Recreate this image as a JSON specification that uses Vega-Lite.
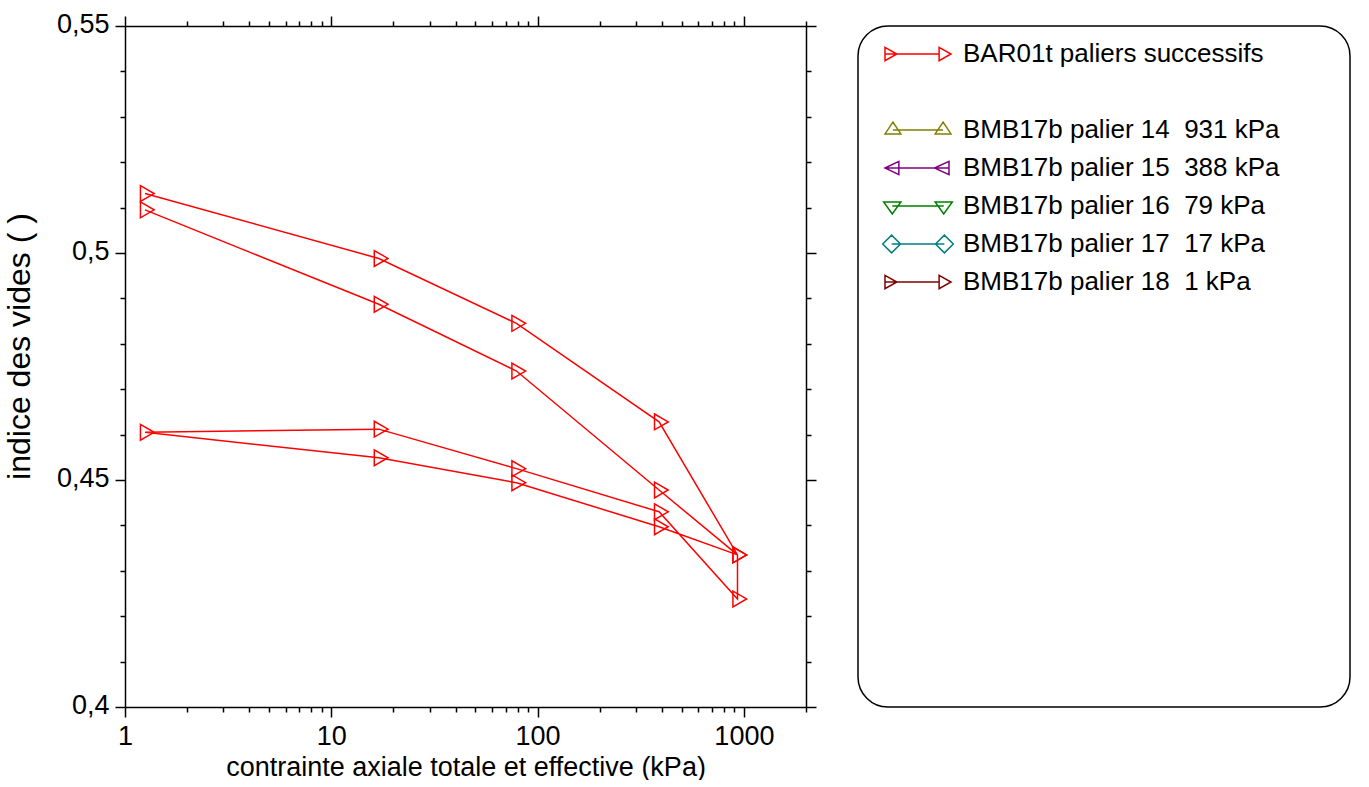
{
  "$schema": "https://vega.github.io/schema/vega-lite/v6.json",
  "background": "white",
  "autosize": {"type": "pad"},
  "padding": {"left": 3, "top": 10, "right": 20, "bottom": 0},
  "spacing": 52,
  "bounds": "flush",
  "config": {
    "font": "Liberation Sans",
    "axis": {
      "domainColor": "black", "domainWidth": 1.5,
      "tickColor": "black", "tickWidth": 1.5,
      "labelColor": "black", "labelFont": "Liberation Sans", "labelFontSize": 27,
      "titleFont": "Liberation Sans", "titleFontSize": 27, "titleFontWeight": "normal", "titleColor": "black",
      "grid": false, "labelOverlap": false, "labelFlush": false
    }
  },
  "datasets": {
    "bar01t": [
      {"k": 1, "p": 1.25, "e": 0.5131},
      {"k": 2, "p": 17, "e": 0.4988},
      {"k": 3, "p": 79, "e": 0.4845},
      {"k": 4, "p": 388, "e": 0.4628},
      {"k": 5, "p": 931, "e": 0.4335},
      {"k": 6, "p": 931, "e": 0.4238},
      {"k": 7, "p": 388, "e": 0.4430},
      {"k": 8, "p": 79, "e": 0.4525},
      {"k": 9, "p": 17, "e": 0.4612},
      {"k": 10, "p": 1.25, "e": 0.4605},
      {"k": 11, "p": 17, "e": 0.4549},
      {"k": 12, "p": 79, "e": 0.4494},
      {"k": 13, "p": 388, "e": 0.4397},
      {"k": 14, "p": 931, "e": 0.4335},
      {"k": 15, "p": 388, "e": 0.4478},
      {"k": 16, "p": 79, "e": 0.4740},
      {"k": 17, "p": 17, "e": 0.4887},
      {"k": 18, "p": 1.25, "e": 0.5095}
    ]
  },
  "hconcat": [
    {
      "width": 681,
      "height": 681,
      "view": {"stroke": null},
      "data": {"name": "bar01t"},
      "layer": [
        {
          "mark": {"type": "line", "color": "#ff0000", "strokeWidth": 1.5},
          "encoding": {
            "x": {
              "field": "p", "type": "quantitative",
              "scale": {"type": "log", "domain": [1, 2000], "nice": false},
              "axis": {
                "orient": "bottom",
                "values": [1,2,3,4,5,6,7,8,9,10,20,30,40,50,60,70,80,90,100,200,300,400,500,600,700,800,900,1000,2000],
                "labelExpr": "(datum.value==1||datum.value==10||datum.value==100||datum.value==1000) ? ''+datum.value : ''",
                "tickSize": {"condition": {"test": "datum.value==1||datum.value==10||datum.value==100||datum.value==1000", "value": 10}, "value": 5},
                "labelPadding": 6,
                "title": "contrainte axiale totale et effective (kPa)",
                "titlePadding": 5
              }
            },
            "y": {
              "field": "e", "type": "quantitative",
              "scale": {"domain": [0.4, 0.55], "nice": false, "zero": false},
              "axis": {
                "orient": "left",
                "values": [0.4,0.41,0.42,0.43,0.44,0.45,0.46,0.47,0.48,0.49,0.5,0.51,0.52,0.53,0.54,0.55],
                "labelExpr": "round(datum.value*100)%5==0 ? replace(format(datum.value,'~g'),'.',',') : ''",
                "tickSize": {"condition": {"test": "round(datum.value*100)%5==0", "value": 10}, "value": 5},
                "labelPadding": 6,
                "labelOffset": -2,
                "title": "indice des vides ( )",
                "titleFontSize": 32,
                "titleY": 320,
                "titlePadding": 20
              }
            },
            "order": {"field": "k", "type": "quantitative"}
          }
        },
        {
          "mark": {"type": "point", "shape": "M-0.577,-1L1.155,0L-0.577,1Z", "filled": false, "color": "#ff0000", "strokeWidth": 1.5, "size": 250, "opacity": 1},
          "encoding": {
            "x": {
              "field": "p", "type": "quantitative",
              "scale": {"type": "log", "domain": [1, 2000], "nice": false},
              "axis": {
                "orient": "top",
                "values": [1,2,3,4,5,6,7,8,9,10,20,30,40,50,60,70,80,90,100,200,300,400,500,600,700,800,900,1000,2000],
                "labels": false,
                "tickSize": {"condition": {"test": "datum.value==1||datum.value==10||datum.value==100||datum.value==1000", "value": 10}, "value": 5},
                "title": null
              }
            },
            "y": {
              "field": "e", "type": "quantitative",
              "scale": {"domain": [0.4, 0.55], "nice": false, "zero": false},
              "axis": {
                "orient": "right",
                "values": [0.4,0.41,0.42,0.43,0.44,0.45,0.46,0.47,0.48,0.49,0.5,0.51,0.52,0.53,0.54,0.55],
                "labels": false,
                "tickSize": {"condition": {"test": "round(datum.value*100)%5==0", "value": 10}, "value": 5},
                "title": null
              }
            }
          }
        }
      ],
      "resolve": {"axis": {"x": "independent", "y": "independent"}}
    },
    {
      "name": "leg",
      "width": 492,
      "height": 681,
      "view": {"stroke": "black", "strokeWidth": 1.5, "cornerRadius": 30},
      "data": {"values": []},
      "mark": {"type": "point", "filled": false, "strokeWidth": 1.5, "size": 600, "opacity": 1},
      "encoding": {
        "color": {
          "field": "serie", "type": "nominal",
          "scale": {
            "domain": ["BAR01t paliers successifs", " ", "BMB17b palier 14\u00a0 931 kPa", "BMB17b palier 15\u00a0 388 kPa", "BMB17b palier 16\u00a0 79 kPa", "BMB17b palier 17\u00a0 17 kPa", "BMB17b palier 18\u00a0 1 kPa"],
            "range": ["#ff0000", "#ffffff", "#808000", "#800080", "#008000", "#008080", "#800000"]
          },
          "legend": {
            "orient": "none", "legendX": 780, "legendY": 15,
            "title": null, "padding": 0,
            "symbolSize": 600, "symbolStrokeWidth": 1.5,
            "labelFont": "Liberation Sans", "labelFontSize": 26, "labelOffset": 32, "labelLimit": 600,
            "rowPadding": 12,
            "encode": {"labels": {"update": {"fill": {"scale": "leg_color", "field": "value"}}}}
          }
        },
        "shape": {
          "field": "serie", "type": "nominal",
          "scale": {
            "domain": ["BAR01t paliers successifs", " ", "BMB17b palier 14\u00a0 931 kPa", "BMB17b palier 15\u00a0 388 kPa", "BMB17b palier 16\u00a0 79 kPa", "BMB17b palier 17\u00a0 17 kPa", "BMB17b palier 18\u00a0 1 kPa"],
            "range": [
              "M-2.694,0H1.724M-2.694,-0.539L-1.724,0L-2.694,0.539ZM1.724,-0.539L2.694,0L1.724,0.539Z",
              "M0,0Z",
              "M-2.047,0H2.047M-2.047,-0.647L-2.694,0.323H-1.401ZM2.047,-0.647L1.401,0.323H2.694Z",
              "M-2.694,0H2.532M-2.694,0L-1.563,-0.539V0.539ZM1.347,0L2.532,-0.539V0.539Z",
              "M-2.101,0H2.101M-2.802,-0.323H-1.401L-2.101,0.647ZM1.401,-0.323H2.802L2.101,0.647Z",
              "M-2.155,0H2.155M-2.883,0L-2.155,-0.727L-1.428,0L-2.155,0.727ZM1.428,0L2.155,-0.727L2.883,0L2.155,0.727Z",
              "M-2.694,0H1.724M-2.694,-0.539L-1.724,0L-2.694,0.539ZM1.724,-0.539L2.694,0L1.724,0.539Z"
            ]
          }
        }
      }
    }
  ]
}
